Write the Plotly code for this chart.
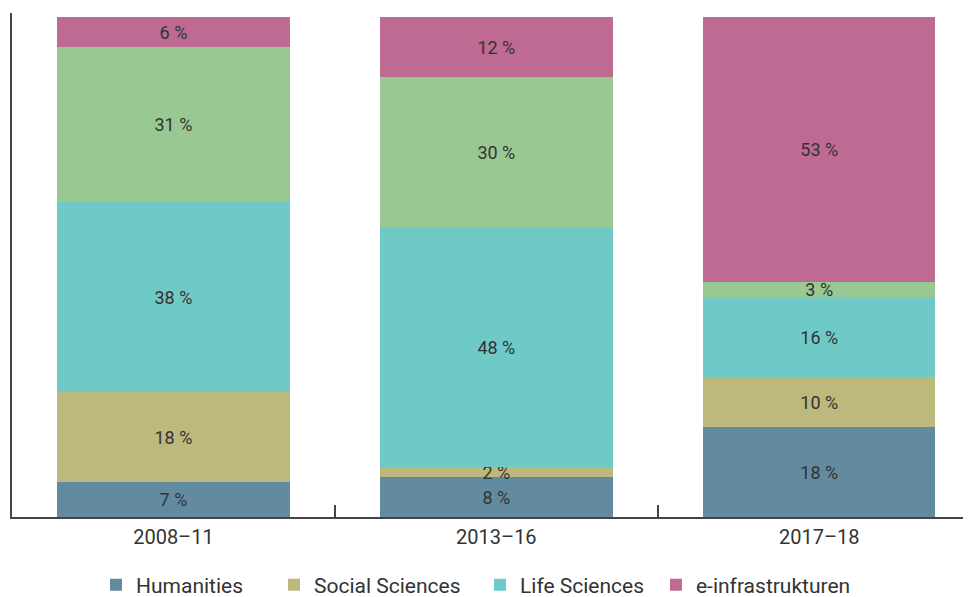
import plotly.graph_objects as go

periods = ["2008–11", "2013–16", "2017–18"]

humanities = [7, 8, 18]
social_sciences = [18, 2, 10]
life_sciences = [38, 48, 16]
natural_sciences = [31, 30, 3]
e_infra = [6, 12, 53]

series = [
    ("Humanities", humanities, "#628b9f", "legend"),
    ("Social Sciences", social_sciences, "#bdb87c", "legend2"),
    ("Life Sciences", life_sciences, "#6fc9c7", "legend3"),
    ("Natural Sciences", natural_sciences, "#9ac893", None),
    ("e-infrastrukturen", e_infra, "#be6a93", "legend4"),
]

font_family = "Roboto, DejaVu Sans, sans-serif"

fig = go.Figure()
for name, vals, color, leg in series:
    fig.add_trace(go.Bar(
        name=name,
        x=periods,
        y=vals,
        text=[f"{v} %" for v in vals],
        textposition="inside",
        insidetextanchor="middle",
        textfont=dict(family=font_family, size=18, color="#333333"),
        marker=dict(color=color, line=dict(width=0)),
        width=0.72,
        showlegend=leg is not None,
        legend=leg if leg else "legend",
        hoverinfo="name+y",
    ))

legend_style = dict(
    orientation="h",
    y=-0.135, yanchor="middle",
    xanchor="left",
    font=dict(size=21, color="#333333"),
    bgcolor="rgba(0,0,0,0)",
    itemclick=False,
)

# page has an 8px body margin, so margins are offset to land on the reference positions
fig.update_layout(
    barmode="stack",
    width=971,
    height=597,
    margin=dict(l=4, r=9, t=5, b=88, autoexpand=False),
    plot_bgcolor="white",
    paper_bgcolor="white",
    font=dict(family=font_family, size=20, color="#333333"),
    uniformtext=dict(minsize=18, mode="show"),
    legend=dict(x=0.0877, **legend_style),
    legend2=dict(x=0.2735, **legend_style),
    legend3=dict(x=0.4885, **legend_style),
    legend4=dict(x=0.6722, **legend_style),
    xaxis=dict(
        range=[-0.5, 2.467],
        automargin=False,
        showline=True,
        linecolor="#444444",
        linewidth=1.5,
        ticks="inside",
        tickson="boundaries",
        ticklen=12,
        tickcolor="#444444",
        tickwidth=1.5,
        ticklabelstandoff=1,
        showgrid=False,
        tickfont=dict(size=20, color="#333333"),
    ),
    yaxis=dict(
        range=[0, 100.8],
        automargin=False,
        showline=True,
        linecolor="#444444",
        linewidth=1.5,
        showticklabels=False,
        ticks="",
        showgrid=False,
        zeroline=False,
    ),
)

fig.write_html("out.html")
